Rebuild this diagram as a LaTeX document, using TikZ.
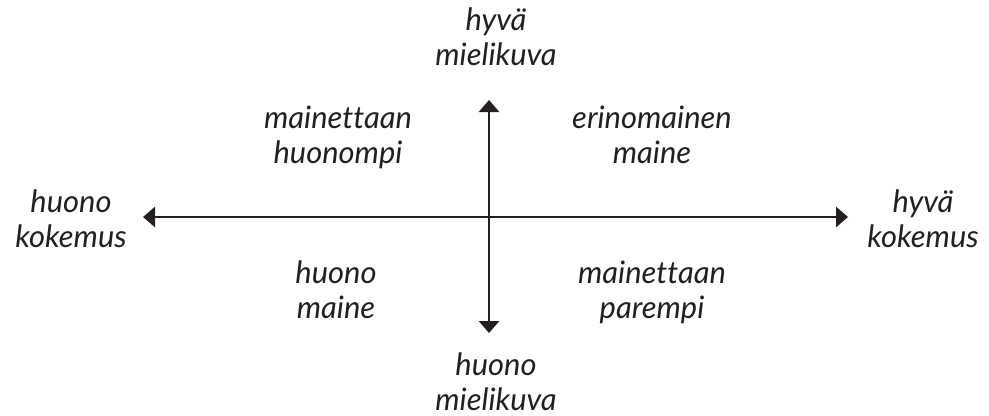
\documentclass[tikz,border=0pt]{standalone}
\usepackage{fontspec}
\setmainfont{Lato}[Ligatures=NoCommon]
\usetikzlibrary{arrows.meta}
\definecolor{ink}{HTML}{231F20}
\tikzset{
  lbl/.style={anchor=base, align=center, font=\itshape\fontsize{31}{35}\selectfont, text=ink, inner sep=0pt},
  axis/.style={draw=ink, line width=2.8bp, {Triangle[length=12bp,width=20bp]}-{Triangle[length=12bp,width=20bp]}}
}
\begin{document}
\begin{tikzpicture}[x=1bp,y=-1bp]
\useasboundingbox (0,0) rectangle (989,415);
\coordinate (L) at (143,217);
\coordinate (R) at (848,217);
\coordinate (T) at (489,100);
\coordinate (B) at (489,333);
\draw[axis] (L) -- (R);
\draw[axis] (T) -- (B);
\node[lbl] (top) at (496,65) {hyvä\\mielikuva};
\node[lbl] (bot) at (496,410) {huono\\mielikuva};
\node[lbl] (left) at (71,247) {huono\\kokemus};
\node[lbl] (right) at (923,247) {hyvä\\kokemus};
\node[lbl] (q2) at (338,163) {mainettaan\\huonompi};
\node[lbl] (q1) at (652,163) {erinomainen\\maine};
\node[lbl] (q3) at (336,318) {huono\\maine};
\node[lbl] (q4) at (652,318) {mainettaan\\parempi};
\end{tikzpicture}
\end{document}
